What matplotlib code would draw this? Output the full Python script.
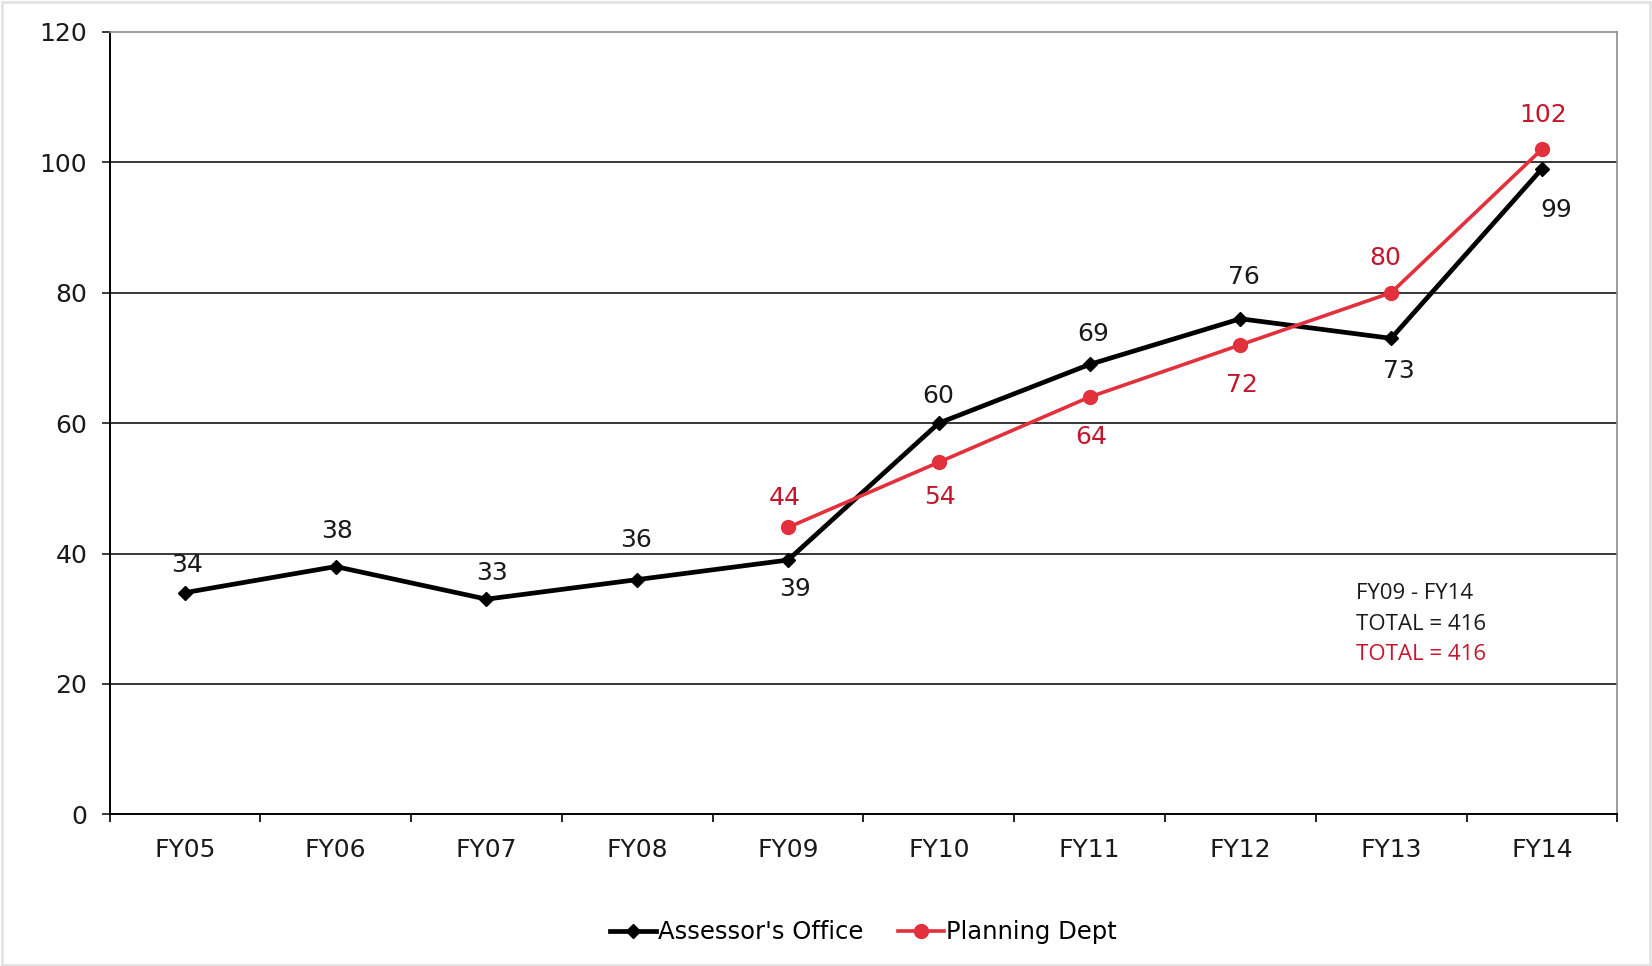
import numpy as np
import matplotlib.pyplot as plt
from matplotlib.patches import Rectangle

# Fiscal years and counts per department
years = ['FY05', 'FY06', 'FY07', 'FY08', 'FY09', 'FY10', 'FY11', 'FY12', 'FY13', 'FY14']
assessor = [34, 38, 33, 36, 39, 60, 69, 76, 73, 99]
planning_years = ['FY09', 'FY10', 'FY11', 'FY12', 'FY13', 'FY14']
planning = [44, 54, 64, 72, 80, 102]

# data label offsets in points (dx, dy) from each marker
assessor_off = [(1.5, 19.7), (0.8, 25.8), (3.8, 19), (-0.8, 28.8), (5.3, -21.2),
                (-0.8, 19.7), (2.3, 22), (2.3, 30.3), (5.3, -23.5), (10.6, -29.6)]
planning_off = [(-2.3, 21.2), (0.8, -25), (1.5, -28.8), (0.8, -28.8), (-4.5, 25), (0.8, 25)]

RED = '#E2303C'
RED_TXT = '#C4172C'

plt.rcParams['font.family'] = 'DejaVu Sans'

fig = plt.figure(figsize=(16.52, 9.66), dpi=100)
fig.patches.append(Rectangle((0.001, 0.001), 0.998, 0.997, transform=fig.transFigure,
                             fill=False, edgecolor='#e3e3e3', linewidth=2))
ax_rect = [0.0663, 0.157, 0.9127, 0.810]
ax = fig.add_axes(ax_rect)

x = np.arange(len(years))
xp = np.array([years.index(y) for y in planning_years])

ax.plot(x, assessor, color='black', lw=3.4, marker='D', ms=7.5, zorder=3,
        label="Assessor's Office")
ax.plot(xp, planning, color=RED, lw=2.6, marker='o', ms=10, zorder=4,
        label='Planning Dept')

for xi, v, (dx, dy) in zip(x, assessor, assessor_off):
    ax.annotate(str(v), (xi, v), xytext=(dx, dy), textcoords='offset points',
                ha='center', va='center', fontsize=18, color='#1a1a1a')
for xi, v, (dx, dy) in zip(xp, planning, planning_off):
    ax.annotate(str(v), (xi, v), xytext=(dx, dy), textcoords='offset points',
                ha='center', va='center', fontsize=18, color=RED_TXT)

ax.set_xlim(-0.5, len(years) - 0.5)
ax.set_ylim(0, 120)
ax.set_yticks(range(0, 121, 20))
ax.set_xticks(x)
ax.set_xticklabels(years)
ax.set_xticks(np.arange(-0.5, len(years)), minor=True)
ax.tick_params(axis='x', which='major', length=0, labelsize=18, pad=17, colors='#1a1a1a')
ax.tick_params(axis='x', which='minor', length=6, width=1.2, direction='out')
ax.tick_params(axis='y', length=6, width=1.2, labelsize=18, pad=10, colors='#1a1a1a')

for yv in range(20, 101, 20):
    ax.axhline(yv, color='black', lw=1.1, zorder=1)

for side in ['top', 'right']:
    ax.spines[side].set_color('#8c8c8c')
    ax.spines[side].set_linewidth(1.2)
for side in ['left', 'bottom']:
    ax.spines[side].set_color('black')
    ax.spines[side].set_linewidth(1.4)

for ty, txt, col in [(0.282, 'FY09 - FY14', '#1a1a1a'),
                     (0.243, 'TOTAL = 416', '#1a1a1a'),
                     (0.204, 'TOTAL = 416', RED_TXT)]:
    ax.text(0.827, ty, txt, transform=ax.transAxes, fontsize=16,
            family='Open Sans', color=col, va='center')

# legend centred under the plot area
fig.legend(loc='center', bbox_to_anchor=(ax_rect[0] + ax_rect[2] / 2, 0.035), ncol=2,
           frameon=False, fontsize=17.5, handlelength=1.9, handletextpad=0.1,
           columnspacing=1.4)

fig.savefig('out.png', dpi=100)
